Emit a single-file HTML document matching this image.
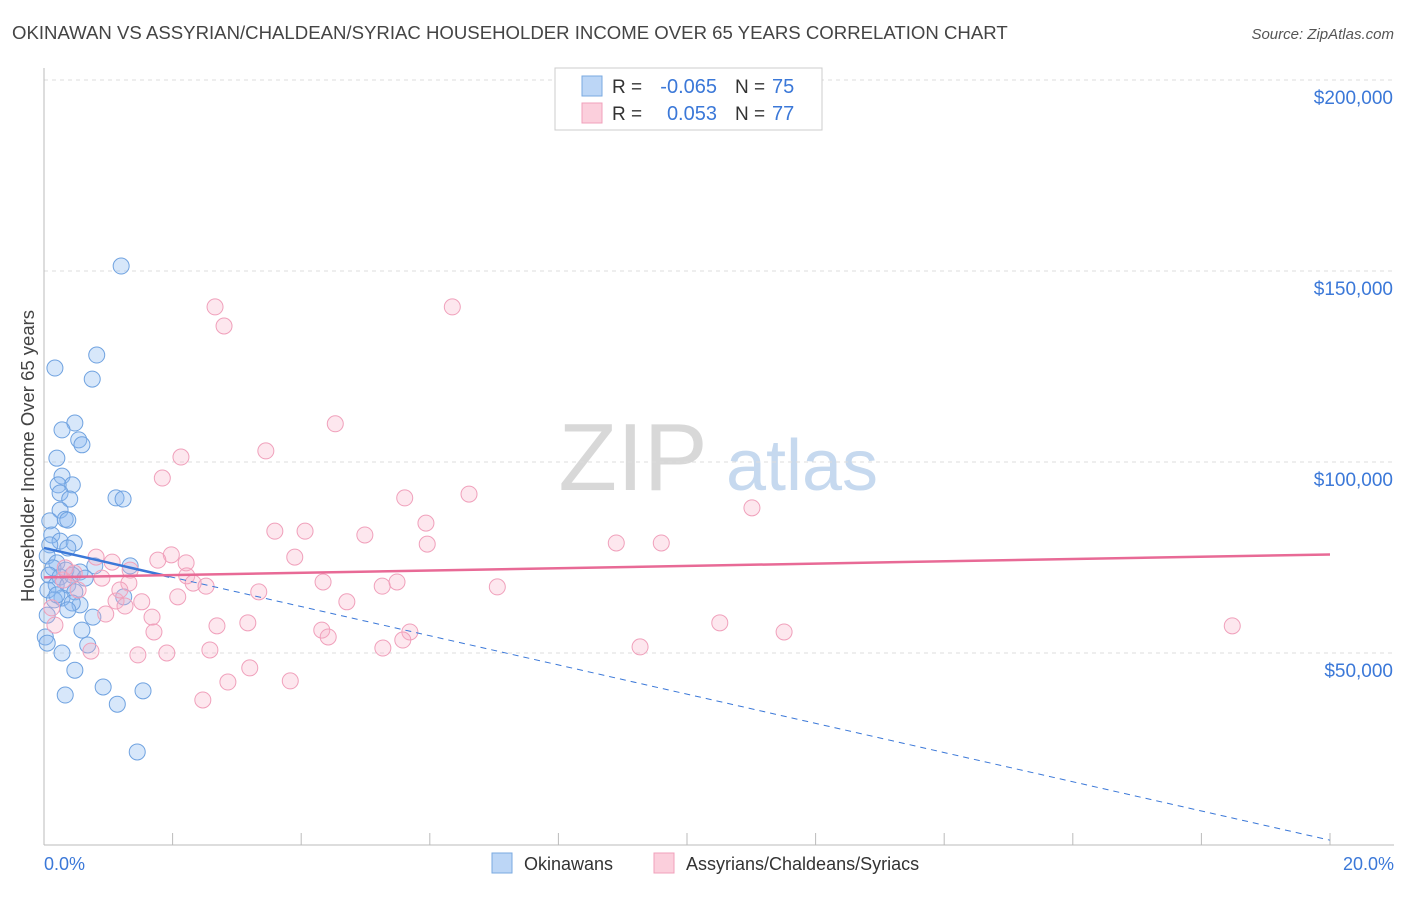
<!DOCTYPE html>
<html><head><meta charset="utf-8"><style>
body{margin:0;background:#fff;font-family:"Liberation Sans",sans-serif;}
svg text{font-family:"Liberation Sans",sans-serif;}
</style></head><body>
<svg id="chart" width="1406" height="892" xmlns="http://www.w3.org/2000/svg">
<text x="12" y="39" font-size="18.6" fill="#444">OKINAWAN VS ASSYRIAN/CHALDEAN/SYRIAC HOUSEHOLDER INCOME OVER 65 YEARS CORRELATION CHART</text>
<text x="1394" y="39" font-size="15" fill="#555" text-anchor="end" font-style="italic">Source: ZipAtlas.com</text>
<g>
<text x="633" y="490" font-size="96" fill="#d8d8d8" text-anchor="middle" font-family="Liberation Serif,serif">ZIP</text>
<text x="802" y="490" font-size="72" fill="#c6d9ef" text-anchor="middle">atlas</text>
</g>
<g id="grid"></g>
<g id="axes"></g>
<g id="pts"></g>
<g id="lines"></g>
<text transform="translate(34,456) rotate(-90)" font-size="18.5" fill="#444" text-anchor="middle">Householder Income Over 65 years</text>
<text x="44" y="870" font-size="18" fill="#3b78d8">0.0%</text>
<text x="1394" y="870" font-size="18" fill="#3b78d8" text-anchor="end">20.0%</text>
<g>
<rect x="555" y="68" width="267" height="62" fill="#fff" stroke="#ccc"/>
<rect x="582" y="76" width="20" height="20" fill="#bcd6f6" stroke="#7aaae0"/>
<rect x="582" y="103" width="20" height="20" fill="#fbcfdc" stroke="#f0a0bb"/>
<text x="612" y="93" font-size="19" fill="#333">R =</text>
<text x="717" y="93" font-size="20" fill="#3b78d8" text-anchor="end">-0.065</text>
<text x="735" y="93" font-size="19" fill="#333">N =</text>
<text x="772" y="93" font-size="20" fill="#3b78d8">75</text>
<text x="612" y="120" font-size="19" fill="#333">R =</text>
<text x="717" y="120" font-size="20" fill="#3b78d8" text-anchor="end">0.053</text>
<text x="735" y="120" font-size="19" fill="#333">N =</text>
<text x="772" y="120" font-size="20" fill="#3b78d8">77</text>
</g>
<g>
<rect x="492" y="853" width="20" height="20" fill="#bcd6f6" stroke="#7aaae0"/>
<text x="524" y="870" font-size="18" fill="#333">Okinawans</text>
<rect x="654" y="853" width="20" height="20" fill="#fbcfdc" stroke="#f0a0bb"/>
<text x="686" y="870" font-size="18" fill="#333">Assyrians/Chaldeans/Syriacs</text>
</g>
</svg>
<script>
const yTicks=[50000,100000,150000,200000];
const yTickLabels=["$50,000","$100,000","$150,000","$200,000"];
const blueX=[1.20,0.17,0.82,0.75,0.48,0.28,0.54,0.59,0.20,0.28,0.44,0.22,0.25,0.40,1.12,1.23,0.25,0.33,0.37,0.09,0.12,0.25,0.47,0.09,0.37,0.05,0.20,0.14,1.34,0.79,0.34,0.56,0.08,0.25,0.44,0.19,0.37,0.06,0.48,0.28,0.16,0.56,0.44,0.37,0.05,0.76,0.59,0.02,0.68,0.05,0.28,0.48,0.92,1.54,0.33,1.14,1.45,1.24,0.64,0.20];
const blueY=[151.3,124.6,128,121.7,110.2,108.4,105.8,104.5,101,96.3,94,94,91.9,90.3,90.6,90.3,87.4,85,84.8,84.6,80.9,79.3,78.8,78.3,77.5,75.4,73.6,72.3,72.8,72.8,71.7,71.2,70.4,69.9,70.4,67.8,67.8,66.5,66,64.4,63.9,62.6,63.1,61.3,59.9,59.4,56,54.2,52.1,52.6,50,45.5,41.1,40.1,39,36.6,24.1,64.7,69.6,65.2];
const pinkX=[2.66,6.35,2.80,4.53,3.45,2.13,1.84,6.61,5.61,11.01,5.94,3.59,4.06,4.99,8.90,9.60,5.96,3.90,1.98,1.77,0.81,1.06,2.21,1.34,0.47,2.22,0.90,0.30,2.32,2.52,4.34,5.26,5.49,7.05,1.32,0.53,3.34,2.08,1.12,1.52,1.26,4.71,0.12,0.96,1.68,10.51,18.48,2.69,3.17,4.32,1.71,5.69,11.51,4.42,5.58,9.27,5.27,2.58,0.73,1.46,1.91,3.20,2.86,3.83,2.47,0.17,0.33,1.18];
const pinkY=[140.6,140.6,135.6,110,102.9,101.3,95.8,91.6,90.6,88,84,81.9,81.9,80.9,78.8,78.8,78.5,75.1,75.7,74.3,75.1,73.8,73.6,71.7,70.9,70.2,69.6,69.1,68.3,67.5,68.6,67.5,68.6,67.3,68.3,66.5,66,64.7,63.6,63.4,62.3,63.4,61.8,60.2,59.4,57.9,57.1,57.1,57.9,56,55.5,55.5,55.5,54.2,53.4,51.6,51.3,50.8,50.5,49.5,50,46.1,42.4,42.7,37.7,57.3,72.3,66.5];
const blueFit=[77.5,70.0];
const blueDash=[70.0,1.0];
const pinkFit=[69.8,75.8];
const NS="http://www.w3.org/2000/svg";
const X=p=>44+p*64.3;
const Y=k=>844-k*1000/50000*191;
function mk(t,a,parent){const e=document.createElementNS(NS,t);for(const k in a)e.setAttribute(k,a[k]);document.getElementById(parent).appendChild(e);return e;}
yTicks.forEach((v,i)=>{
 const g=mk('line',{x1:44,x2:1394,y1:Y(v/1000),y2:Y(v/1000),stroke:'#ddd','stroke-dasharray':'4,4'},'grid');
 
 
 const t=mk('text',{x:1393,y:Y(v/1000)+24,'font-size':19,fill:'#3b78d8','text-anchor':'end'},'grid');
 t.textContent=yTickLabels[i];
 
 
});
let a=mk('line',{x1:44,x2:44,y1:68,y2:845,stroke:'#bbb'},'axes');


a=mk('line',{x1:44,x2:1394,y1:845,y2:845,stroke:'#bbb'},'axes');


for(let i=1;i<=10;i++){const t=mk('line',{x1:X(i*2),x2:X(i*2),y1:833,y2:845,stroke:'#bbb'},'axes');
 
 }
blueX.forEach((x,i)=>{const c=mk('circle',{cx:X(x),cy:Y(blueY[i]),r:8,fill:'rgba(140,185,240,0.35)',stroke:'#6fa2e0','stroke-width':1},'pts');
 
 });
pinkX.forEach((x,i)=>{const c=mk('circle',{cx:X(x),cy:Y(pinkY[i]),r:8,fill:'rgba(248,175,200,0.3)',stroke:'#f0a0bb','stroke-width':1},'pts');
 
 });
let l=mk('line',{x1:X(0),y1:Y(blueFit[0]),x2:X(1.95),y2:Y(blueFit[1]),stroke:'#3b78d8','stroke-width':2.5},'lines');


l=mk('line',{x1:X(1.95),y1:Y(blueDash[0]),x2:X(20),y2:Y(blueDash[1]),stroke:'#3b78d8','stroke-width':1,'stroke-dasharray':'6,5'},'lines');


l=mk('line',{x1:X(0),y1:Y(pinkFit[0]),x2:X(20),y2:Y(pinkFit[1]),stroke:'#e86a96','stroke-width':2.5},'lines');


</script>
</body></html>
